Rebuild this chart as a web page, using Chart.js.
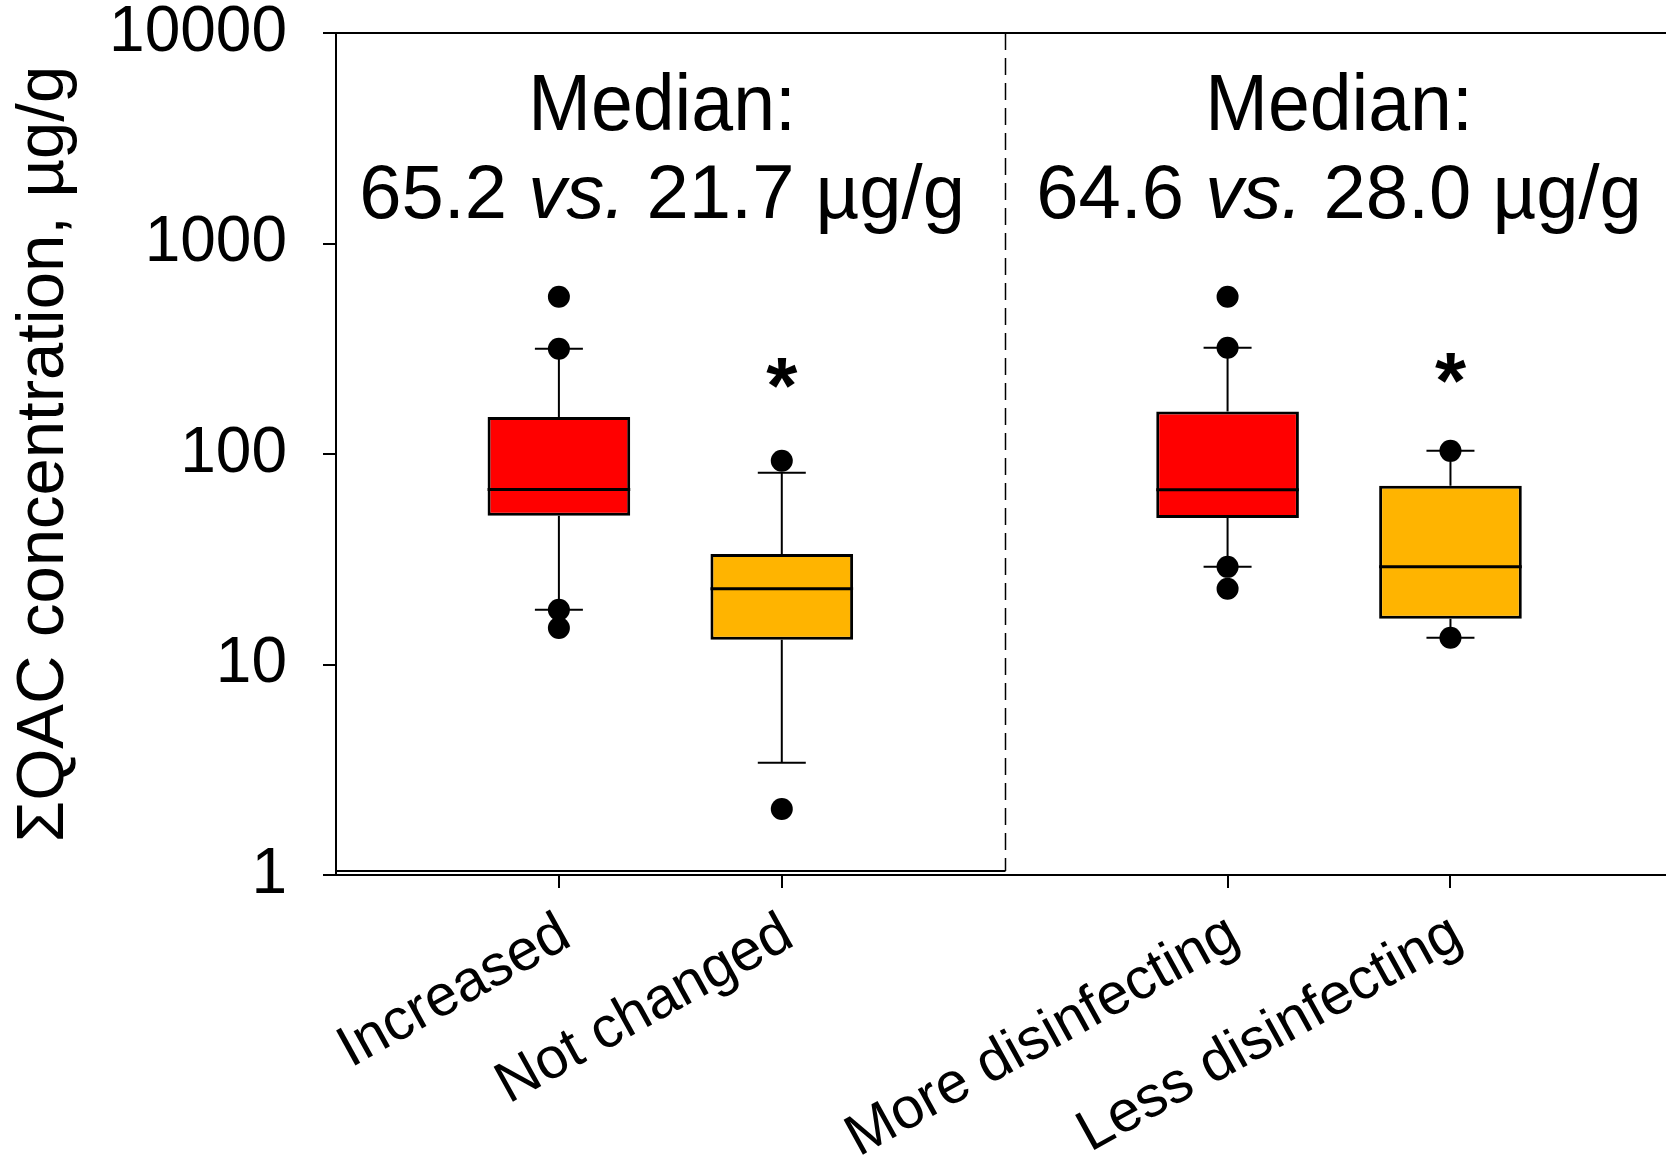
<!DOCTYPE html>
<html>
<head>
<meta charset="utf-8">
<script src="https://cdn.jsdelivr.net/npm/chart.js@4.4.1/dist/chart.umd.min.js"></script>
<style>
html,body{margin:0;padding:0;background:#fff;}
#wrap{width:1666px;height:1167px;position:relative;}
</style>
</head>
<body>
<div id="wrap"><canvas id="c" width="1666" height="1167"></canvas></div>
<script>
// ---- data ----
const categories = ['Increased', 'Not changed', 'More disinfecting', 'Less disinfecting'];
const slots = [0, 1, 3, 4];               // category slot on x axis (slot 2 = panel divider)
const q1 = [50.9, 13.1, 49.7, 16.5];
const medians = [67.9, 22.9, 67.6, 29.1];
const q3 = [150, 33.5, 159, 70.6];
const whiskerLow = [18.2, 3.41, 29.1, 13.4];
const whiskerHigh = [316, 81.4, 320, 103.5];
const outliers = [
  [559, 316, 18.2, 14.9],
  [92.8, 2.06],
  [559, 320, 29.1, 22.9],
  [103.5, 13.4]
];
const asteriskAt = [null, 257, null, 271];  // value level of significance marker
const yTicks = [1, 10, 100, 1000, 10000];
const boxColors = ['#FF0000', '#FFB400', '#FF0000', '#FFB400'];
const panelNotes = [
  { center: 0.463, line1: 'Median:', line2: [['65.2 ', false], ['vs.', true], [' 21.7 µg/g', false]] },
  { center: 3.50, line1: 'Median:', line2: [['64.6 ', false], ['vs.', true], [' 28.0 µg/g', false]] }
];
const yTitle = 'ΣQAC concentration, µg/g';

const FONT = '"Liberation Sans", Arial, Helvetica, sans-serif';
const NOTE1_SIZE = 80;
const NOTE2_SIZE = 76;
const STAR_SIZE = 80;

const outlierPoints = [];
outliers.forEach((arr, i) => arr.forEach(v => outlierPoints.push({ x: slots[i], y: v })));

const boxPlugin = {
  id: 'boxParts',
  beforeDatasetsDraw(chart) {
    const ctx = chart.ctx, xs = chart.scales.x, ys = chart.scales.y, a = chart.chartArea;
    ctx.save();
    ctx.strokeStyle = '#000';
    ctx.lineWidth = 2;
    ctx.beginPath();
    ctx.moveTo(a.left, a.top);
    ctx.lineTo(a.right, a.top);
    ctx.stroke();
    const dx = Math.round(xs.getPixelForValue(2)) + 0.5;
    ctx.setLineDash([17, 8]);
    ctx.lineWidth = 1.5;
    ctx.beginPath();
    ctx.moveTo(dx, a.top);
    ctx.lineTo(dx, a.bottom - 4);
    ctx.stroke();
    ctx.setLineDash([]);
    ctx.lineWidth = 2;
    ctx.beginPath();
    ctx.moveTo(a.left, a.bottom - 4);
    ctx.lineTo(dx, a.bottom - 4);
    ctx.stroke();
    ctx.lineWidth = 2;
    slots.forEach((s, i) => {
      const x = xs.getPixelForValue(s);
      const yq1 = ys.getPixelForValue(q1[i]);
      const yq3 = ys.getPixelForValue(q3[i]);
      const yl = ys.getPixelForValue(whiskerLow[i]);
      const yh = ys.getPixelForValue(whiskerHigh[i]);
      ctx.beginPath();
      ctx.moveTo(x, yq3); ctx.lineTo(x, yh);
      ctx.moveTo(x - 24, yh); ctx.lineTo(x + 24, yh);
      ctx.moveTo(x, yq1); ctx.lineTo(x, yl);
      ctx.moveTo(x - 24, yl); ctx.lineTo(x + 24, yl);
      ctx.stroke();
    });
    ctx.restore();
  },
  afterDatasetsDraw(chart) {
    const ctx = chart.ctx, xs = chart.scales.x, ys = chart.scales.y;
    const meta = chart.getDatasetMeta(1);
    ctx.save();
    ctx.strokeStyle = '#000';
    ctx.lineWidth = 3;
    slots.forEach((s, i) => {
      const bar = meta.data[i];
      const y = ys.getPixelForValue(medians[i]);
      ctx.beginPath();
      ctx.moveTo(bar.x - bar.width / 2, y);
      ctx.lineTo(bar.x + bar.width / 2, y);
      ctx.stroke();
    });
    ctx.fillStyle = '#000';
    ctx.font = 'bold ' + STAR_SIZE + 'px ' + FONT;
    ctx.textAlign = 'center';
    ctx.textBaseline = 'alphabetic';
    slots.forEach((s, i) => {
      if (asteriskAt[i] == null) return;
      const x = xs.getPixelForValue(s);
      const y = ys.getPixelForValue(asteriskAt[i]);
      ctx.fillText('*', x, y + 0.56 * STAR_SIZE);
    });
    ctx.textAlign = 'left';
    panelNotes.forEach(n => {
      const cx = xs.getPixelForValue(n.center);
      ctx.font = NOTE1_SIZE + 'px ' + FONT;
      const w1 = ctx.measureText(n.line1).width;
      ctx.save();
      ctx.translate(cx, 130);
      ctx.scale(0.94, 1);
      ctx.fillText(n.line1, -w1 / 2, 0);
      ctx.restore();
      let total = 0;
      n.line2.forEach(([t, it]) => {
        ctx.font = (it ? 'italic ' : '') + NOTE2_SIZE + 'px ' + FONT;
        total += ctx.measureText(t).width;
      });
      let x = cx - total / 2;
      n.line2.forEach(([t, it]) => {
        ctx.font = (it ? 'italic ' : '') + NOTE2_SIZE + 'px ' + FONT;
        ctx.fillText(t, x, 218);
        x += ctx.measureText(t).width;
      });
    });
    ctx.restore();
  }
};

new Chart(document.getElementById('c'), {
  type: 'bar',
  data: {
    datasets: [
      {
        type: 'scatter',
        data: outlierPoints,
        pointRadius: 11,
        pointHoverRadius: 11,
        backgroundColor: '#000',
        borderWidth: 0,
        order: 0
      },
      {
        type: 'bar',
        data: slots.map((s, i) => ({ x: s, y: [q1[i], q3[i]] })),
        backgroundColor: boxColors,
        borderColor: '#000',
        borderWidth: 3,
        borderSkipped: false,
        barPercentage: 0.64,
        categoryPercentage: 1,
        grouped: false,
        order: 1
      }
    ]
  },
  options: {
    responsive: false,
    animation: false,
    events: [],
    layout: { autoPadding: false, padding: { top: 33, right: 0, left: 0, bottom: 0 } },
    plugins: { legend: { display: false }, tooltip: { enabled: false } },
    scales: {
      x: {
        type: 'linear',
        offset: false,
        min: -1,
        max: 4.967,
        afterBuildTicks: s => { s.ticks = slots.map(v => ({ value: v })); },
        afterFit: s => { s.height = 292; s.paddingLeft = 0; s.paddingRight = 0; },
        ticks: {
          autoSkip: false,
          minRotation: 29,
          maxRotation: 29,
          padding: 12,
          labelOffset: 7,
          color: '#000',
          font: { size: 58, family: FONT },
          callback: v => categories[slots.indexOf(v)]
        },
        grid: { offset: false, drawOnChartArea: false, drawTicks: true, tickLength: 13, color: '#000', lineWidth: 2 },
        border: { display: true, color: '#000', width: 2 }
      },
      y: {
        type: 'logarithmic',
        min: 1,
        max: 10000,
        afterBuildTicks: s => { s.ticks = yTicks.map(v => ({ value: v, major: true })); },
        afterFit: s => { s.width = 336; s.paddingTop = 0; s.paddingBottom = 0; },
        ticks: {
          padding: 36,
          color: '#000',
          font: { size: 64, family: FONT, lineHeight: 1 },
          callback: v => String(v)
        },
        grid: { drawOnChartArea: false, drawTicks: true, tickLength: 13, color: '#000', lineWidth: 2 },
        border: { display: true, color: '#000', width: 2 },
        title: {
          display: true,
          text: yTitle,
          color: '#000',
          font: { size: 67, family: FONT },
          padding: { top: 4, bottom: 0 }
        }
      }
    }
  },
  plugins: [boxPlugin]
});
</script>
</body>
</html>
